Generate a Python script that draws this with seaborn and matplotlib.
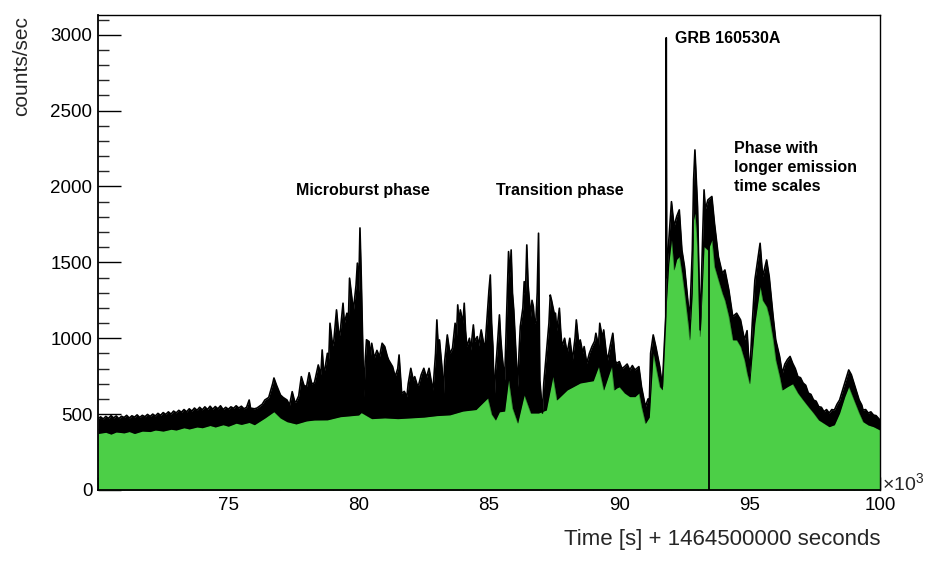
import numpy as np
import pandas as pd
import matplotlib
matplotlib.use("Agg")
import matplotlib.pyplot as plt
from matplotlib.ticker import MultipleLocator, FuncFormatter
import seaborn as sns

# ---------------- data ----------------
# upper envelope of the light curve (top of black band), time in ks after offset
t_hi = [70.0, 70.1, 70.2, 70.3, 70.4, 70.5, 70.6, 70.7, 70.8, 70.9, 71.0, 71.1, 71.2, 71.3, 71.4,
        71.5, 71.6, 71.7, 71.8, 71.9, 72.0, 72.1, 72.2, 72.3, 72.4, 72.5, 72.6, 72.7, 72.8, 72.9,
        73.0, 73.1, 73.2, 73.3, 73.4, 73.5, 73.6, 73.7, 73.8, 73.9, 74.0, 74.1, 74.2, 74.3, 74.4,
        74.5, 74.6, 74.7, 74.8, 74.9, 75.0, 75.1, 75.2, 75.3, 75.4, 75.5, 75.6, 75.7, 75.8,
        75.85, 76.0, 76.1, 76.3, 76.4, 76.55, 76.7, 76.75, 76.85, 77.0, 77.1, 77.25, 77.35, 77.45,
        77.55, 77.6, 77.7, 77.8, 77.9, 78.0, 78.1, 78.2, 78.3, 78.45, 78.55, 78.6, 78.65, 78.7,
        78.8, 78.85, 78.9, 79.0, 79.05, 79.15, 79.25, 79.3, 79.4, 79.45, 79.55, 79.6, 79.65, 79.75,
        79.8, 79.9, 79.95, 80.0, 80.05, 80.1, 80.15, 80.2, 80.25, 80.3, 80.4, 80.45, 80.5, 80.6,
        80.7, 80.8, 80.9, 81.0, 81.1, 81.15, 81.3, 81.4, 81.5, 81.55, 81.6, 81.65, 81.75, 81.85,
        81.9, 82.0, 82.1, 82.15, 82.25, 82.3, 82.4, 82.5, 82.6, 82.7, 82.8, 82.85, 82.95, 83.0,
        83.05, 83.1, 83.2, 83.25, 83.3, 83.4, 83.5, 83.6, 83.7, 83.75, 83.8, 83.85, 83.9, 84.0,
        84.05, 84.1, 84.15, 84.25, 84.3, 84.4, 84.45, 84.55, 84.6, 84.7, 84.8, 84.85, 84.95, 85.0,
        85.05, 85.1, 85.15, 85.2, 85.25, 85.3, 85.4, 85.45, 85.5, 85.6, 85.7, 85.75, 85.8, 85.85,
        85.9, 85.95, 86.05, 86.1, 86.15, 86.2, 86.3, 86.35, 86.4, 86.45, 86.5, 86.6, 86.65, 86.7,
        86.75, 86.8, 86.85, 86.9, 86.95, 87.05, 87.1, 87.2, 87.3, 87.35, 87.4, 87.5, 87.55, 87.6,
        87.7, 87.75, 87.8, 87.9, 88.0, 88.1, 88.2, 88.3, 88.35, 88.45, 88.5, 88.6, 88.65, 88.75,
        88.85, 88.95, 89.05, 89.1, 89.2, 89.25, 89.35, 89.4, 89.5, 89.55, 89.65, 89.75, 89.85, 89.9,
        90.0, 90.1, 90.2, 90.3, 90.4, 90.5, 90.6, 90.75, 90.85, 91.0, 91.1, 91.15, 91.2, 91.3,
        91.4, 91.55, 91.65, 91.78, 91.8, 91.82, 91.9, 92.0, 92.1, 92.2, 92.3, 92.4, 92.5, 92.65,
        92.7, 92.8, 92.85, 92.9, 93.0, 93.1, 93.2, 93.25, 93.3, 93.4, 93.55, 93.65, 93.8, 93.95,
        94.05, 94.2, 94.35, 94.5, 94.65, 94.8, 94.9, 95.0, 95.1, 95.2, 95.4, 95.5, 95.65, 95.75,
        95.9, 96.0, 96.15, 96.25, 96.35, 96.45, 96.55, 96.65, 96.75, 96.85, 96.95, 97.05, 97.15,
        97.25, 97.35, 97.45, 97.55, 97.65, 97.75, 97.85, 97.95, 98.05, 98.15, 98.25, 98.35, 98.45,
        98.55, 98.65, 98.8, 98.9, 99.0, 99.1, 99.2, 99.3, 99.35, 99.45, 99.55, 99.65, 99.75, 99.85,
        100.0]
c_hi = [470, 482, 468, 485, 472, 490, 475, 488, 470, 486, 478, 492, 474, 489, 480,
        495, 478, 492, 483, 498, 485, 500, 488, 505, 492, 510, 498, 515, 500, 520,
        508, 525, 512, 530, 515, 535, 520, 540, 525, 545, 528, 548, 530, 552, 532,
        550, 535, 555, 530, 545, 532, 548, 538, 555, 540, 552, 535, 545, 593,
        540, 535, 540, 565, 593, 610, 700, 738, 690, 626, 610, 593, 560, 648,
        580, 582, 620, 747, 690, 681, 773, 700, 705, 824, 760, 923, 800, 791,
        901, 850, 1099, 950, 989, 1187, 1000, 1055, 1231, 1100, 1165, 1080, 1396, 1250,
        1187, 1350, 1495, 1300, 1727, 1400, 1009, 613, 850, 990, 978, 880, 967, 870,
        920, 879, 967, 945, 880, 857, 813, 747, 800, 890, 760, 637, 650, 615,
        700, 802, 720, 747, 690, 692, 760, 802, 740, 802, 700, 659, 900, 1121,
        950, 989, 800, 615, 850, 1022, 900, 934, 1099, 1000, 1220, 1100, 1187, 1100,
        1231, 1050, 945, 1000, 923, 1088, 980, 1011, 950, 1055, 960, 945, 1200, 1319,
        1417, 1100, 945, 593, 791, 900, 1154, 1000, 890, 725, 1300, 1571, 1400, 1582,
        1300, 1187, 850, 681, 900, 1077, 1200, 1373, 1300, 1615, 1350, 1143, 1250, 1209,
        1100, 1121, 1300, 1692, 725, 507, 700, 901, 1100, 1285, 1250, 1165, 1165, 1050,
        1198, 1050, 945, 1000, 901, 1000, 857, 1000, 1121, 950, 989, 900, 945, 835,
        900, 945, 980, 1033, 950, 1099, 1000, 1055, 900, 857, 950, 1033, 850, 835,
        846, 800, 813, 830, 791, 820, 791, 813, 681, 549, 600, 573, 901, 1022,
        945, 813, 681, 1143, 2980, 1400, 1648, 1900, 1736, 1802, 1846, 1582, 1472, 1209,
        1121, 1582, 2044, 2241, 1868, 1055, 1692, 1978, 1850, 1912, 1934, 1758, 1538, 1428,
        1450, 1319, 1143, 1165, 1121, 989, 1050, 760, 1100, 1384, 1626, 1406, 1516, 1406,
        1143, 989, 879, 769, 830, 860, 880, 835, 800, 747, 740, 705, 690,
        639, 630, 593, 585, 549, 545, 516, 530, 507, 530, 527, 565, 593,
        650, 705, 791, 760, 705, 650, 593, 560, 527, 530, 507, 515, 494, 490,
        461]

# lower envelope (top of green fill)
t_lo = [70.0, 70.3, 70.5, 70.7, 71.0, 71.2, 71.4, 71.7, 72.0, 72.2, 72.5, 72.8, 73.0, 73.3,
        73.5, 73.8, 74.0, 74.3, 74.5, 74.8, 75.0, 75.3, 75.5, 75.8, 76.0, 76.4,
        76.75, 77.0, 77.25, 77.6, 78.0, 78.3, 78.8, 79.3, 80.0, 80.1, 80.5, 81.0, 81.5, 82.0,
        82.5, 83.0, 83.5, 84.0, 84.5, 84.95, 85.1, 85.25, 85.4, 85.6, 85.75, 85.9, 86.1, 86.35,
        86.6, 86.9, 87.2, 87.45, 87.6, 88.0, 88.5, 89.0, 89.2, 89.4, 89.7, 89.8, 89.9, 90.0,
        90.2, 90.4, 90.6, 90.75, 90.85, 91.0, 91.15, 91.3, 91.4, 91.55, 91.65, 91.75, 91.9, 92.0,
        92.1, 92.2, 92.3, 92.4, 92.5, 92.65, 92.7, 92.8, 92.85, 92.9, 93.0, 93.1, 93.2, 93.25,
        93.4, 93.55, 93.65, 93.8, 93.95, 94.05, 94.2, 94.35, 94.5, 94.65, 94.8, 94.9, 95.0, 95.2,
        95.4, 95.5, 95.65, 95.75, 95.9, 96.0, 96.15, 96.25, 96.45, 96.65, 96.85, 97.05, 97.25,
        97.45, 97.65, 97.85, 98.05, 98.25, 98.45, 98.65, 98.8, 99.0, 99.2, 99.35, 99.55, 99.75,
        100.0]
c_lo = [372, 380, 368, 382, 376, 385, 372, 388, 385, 395, 388, 400, 395, 410,
        402, 415, 410, 425, 415, 430, 420, 440, 432, 445, 430, 474,
        516, 474, 450, 435, 455, 461, 462, 483, 494, 510, 470, 475, 470, 475,
        480, 490, 495, 520, 530, 606, 500, 461, 515, 520, 725, 540, 441, 626,
        507, 507, 527, 747, 593, 659, 705, 720, 813, 659, 813, 659, 672, 680,
        639, 615, 615, 639, 549, 439, 480, 901, 813, 681, 660, 1077, 1495, 1648,
        1450, 1520, 1538, 1428, 1297, 1077, 989, 1300, 1780, 1824, 1604, 1011, 1400, 1604,
        1580, 1648, 1472, 1384, 1297, 1250, 1143, 989, 989, 945, 857, 769, 700, 1099,
        1340, 1250, 1209, 1143, 989, 857, 747, 659, 681, 700, 639, 593, 549,
        507, 461, 439, 417, 430, 507, 615, 681, 593, 507, 450, 428, 417,
        395]

# single-bin dropout (drawn as a vertical black line)
dropout_t = [93.45]
dropout_top = [1900]

annotations = ["Microburst phase", "Transition phase", "GRB 160530A",
               "Phase with\nlonger emission\ntime scales"]
x_title = "Time [s] + 1464500000 seconds"
y_title = "counts/sec"

# ---------------- plotting ----------------
sns.set_theme(style="ticks")
plt.rcParams["font.family"] = ["Liberation Sans", "DejaVu Sans"]
plt.rcParams["mathtext.fontset"] = "custom"
plt.rcParams["mathtext.rm"] = "Liberation Sans"

hi = pd.DataFrame({"t": np.array(t_hi) * 1000.0, "c": c_hi})
lo = pd.DataFrame({"t": np.array(t_lo) * 1000.0, "c": c_lo})

fig = plt.figure(figsize=(9.33, 5.62), dpi=100)
ax = fig.add_axes([98 / 933, 72 / 562, 782 / 933, 475 / 562])

green = "#4ccf47"
ax.fill_between(hi["t"], 0, hi["c"], color="black", lw=0, zorder=1)
ax.fill_between(lo["t"], 0, lo["c"], color=green, lw=0, zorder=2)
sns.lineplot(data=hi, x="t", y="c", ax=ax, color="black", lw=1.2,
             estimator=None, sort=False, zorder=3)
sns.lineplot(data=lo, x="t", y="c", ax=ax, color="black", lw=0.5,
             estimator=None, sort=False, zorder=2.5, alpha=0.35)
ax.vlines(np.array(dropout_t) * 1000.0, 0, dropout_top, color="black", lw=1.3, zorder=3)

ax.set_xlim(70000, 100000)
ax.set_ylim(0, 3130)
ax.set_xlabel("")
ax.set_ylabel("")

ax.xaxis.set_major_locator(MultipleLocator(5000))
ax.xaxis.set_minor_locator(MultipleLocator(1000))
ax.yaxis.set_major_locator(MultipleLocator(500))
ax.yaxis.set_minor_locator(MultipleLocator(100))
ax.xaxis.set_major_formatter(FuncFormatter(lambda v, p: "" if abs(v - 70000) < 1 else f"{v/1000:g}"))

ax.tick_params(axis="x", which="major", direction="in", length=9.5, width=1.0,
               labelsize=13.5, pad=5, colors="black", top=False)
ax.tick_params(axis="x", which="minor", direction="in", length=5, width=1.0, top=False)
ax.tick_params(axis="y", which="major", direction="in", length=16.5, width=1.0,
               labelsize=13.5, pad=4, colors="black", right=False)
ax.tick_params(axis="y", which="minor", direction="in", length=8, width=1.0, right=False)

for s in ["left", "bottom"]:
    ax.spines[s].set_linewidth(1.3)
for s in ["top", "right"]:
    ax.spines[s].set_linewidth(1.0)
for s in ax.spines.values():
    s.set_color("black")
    s.set_visible(True)

bold = dict(fontsize=11.5, fontweight="bold", color="black", zorder=5)
ax.text(80170, 1971, annotations[0], ha="center", va="center", **bold)
ax.text(87720, 1971, annotations[1], ha="center", va="center", **bold)
ax.text(92140, 2975, annotations[2], ha="left", va="center", **bold)
ax.text(94400, 2300, annotations[3], ha="left", va="top", linespacing=1.32, **bold)

fig.text(12 / 933, 1 - 16 / 562, y_title, rotation=90, ha="left", va="top", fontsize=15)
fig.text(880 / 933, 1 - 540 / 562, x_title, ha="right", va="center", fontsize=16)
fig.text(882 / 933, 1 - 484 / 562, r"$\times10^{3}$", ha="left", va="center", fontsize=14)

fig.savefig("out.png", dpi=100, facecolor="white")
